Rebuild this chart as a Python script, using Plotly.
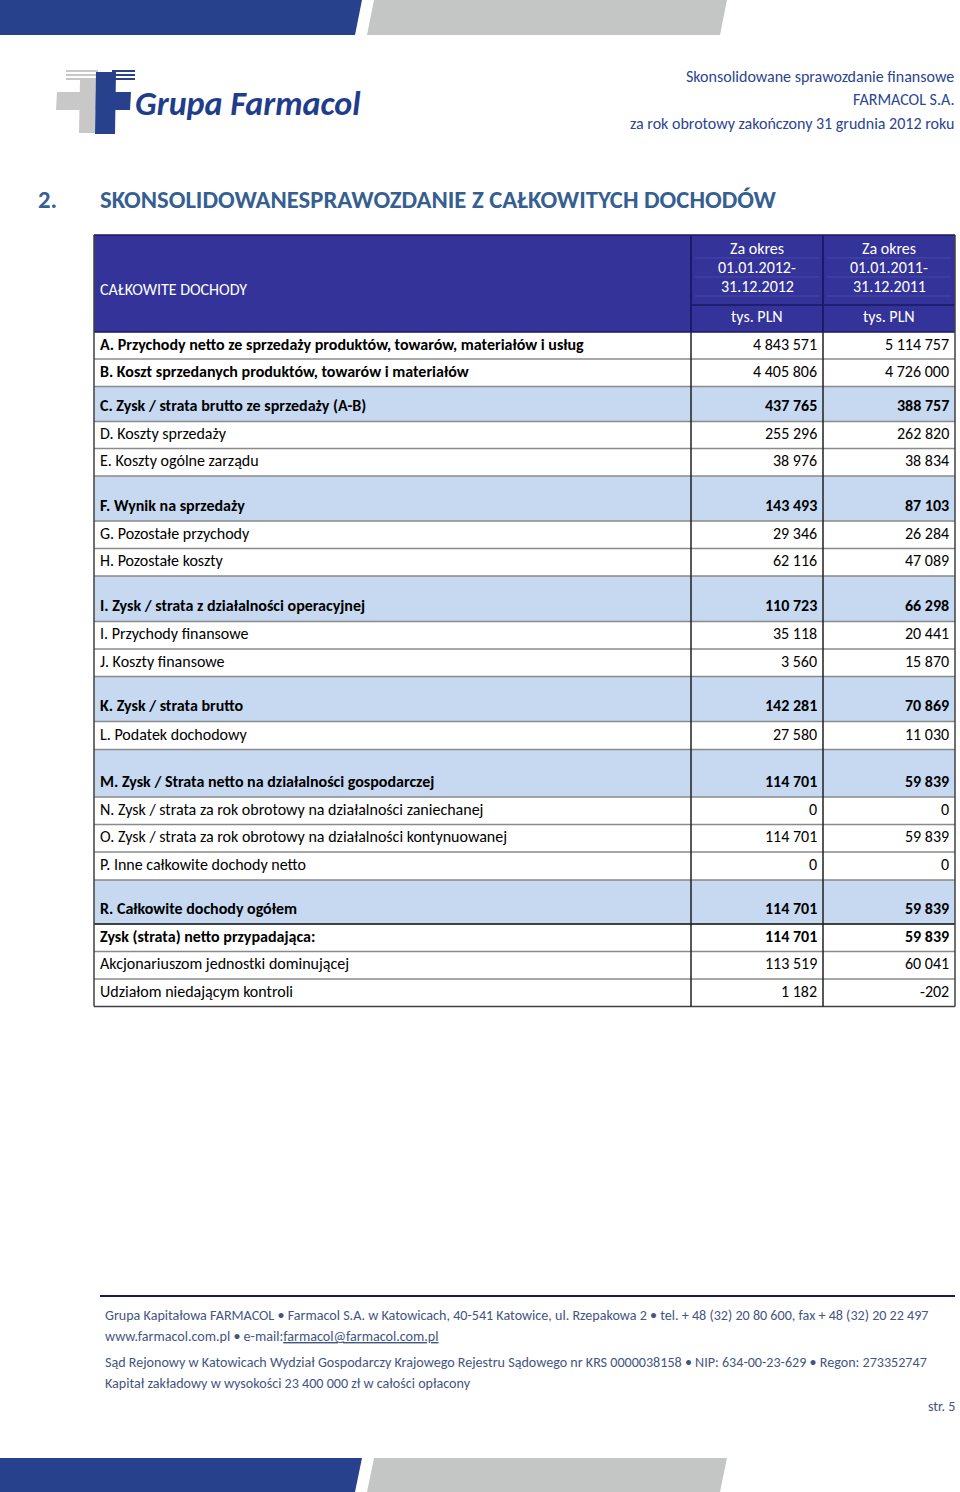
import plotly.graph_objects as go

# ---- data ----
labels = [
    "A. Przychody netto ze sprzedaży produktów, towarów, materiałów i usług",
    "B. Koszt sprzedanych produktów, towarów i materiałów",
    "C. Zysk / strata brutto ze sprzedaży (A-B)",
    "D. Koszty sprzedaży",
    "E. Koszty ogólne zarządu",
    "F. Wynik na sprzedaży",
    "G. Pozostałe przychody",
    "H. Pozostałe koszty",
    "I. Zysk / strata z działalności operacyjnej",
    "I. Przychody finansowe",
    "J. Koszty finansowe",
    "K. Zysk / strata brutto",
    "L. Podatek dochodowy",
    "M. Zysk / Strata netto na działalności gospodarczej",
    "N. Zysk / strata za rok obrotowy na działalności zaniechanej",
    "O. Zysk / strata za rok obrotowy na działalności kontynuowanej",
    "P. Inne całkowite dochody netto",
    "R. Całkowite dochody ogółem",
    "Zysk (strata) netto przypadająca:",
    "Akcjonariuszom jednostki dominującej",
    "Udziałom niedającym kontroli",
]
values_2012 = [4843571, 4405806, 437765, 255296, 38976, 143493, 29346, 62116,
               110723, 35118, 3560, 142281, 27580, 114701, 0, 114701, 0,
               114701, 114701, 113519, 1182]
values_2011 = [5114757, 4726000, 388757, 262820, 38834, 87103, 26284, 47089,
               66298, 20441, 15870, 70869, 11030, 59839, 0, 59839, 0,
               59839, 59839, 60041, -202]
col_headers = [["Za okres", "01.01.2012-", "31.12.2012"],
               ["Za okres", "01.01.2011-", "31.12.2011"]]
unit_label = "tys. PLN"
table_title = "CAŁKOWITE DOCHODY"
section_no = "2."
section_title = "SKONSOLIDOWANESPRAWOZDANIE Z CAŁKOWITYCH DOCHODÓW"
doc_header = ["Skonsolidowane sprawozdanie finansowe",
              "FARMACOL S.A.",
              "za rok obrotowy zakończony 31 grudnia 2012 roku"]
footer_lines = [
    "Grupa Kapitałowa FARMACOL • Farmacol S.A. w Katowicach, 40-541 Katowice, ul. Rzepakowa 2 • tel. + 48 (32) 20 80 600, fax + 48 (32) 20 22 497",
    "www.farmacol.com.pl • e-mail:<u>farmacol@farmacol.com.pl</u>",
    "Sąd Rejonowy w Katowicach Wydział Gospodarczy Krajowego Rejestru Sądowego nr KRS 0000038158 • NIP: 634-00-23-629 • Regon: 273352747",
    "Kapitał zakładowy w wysokości 23 400 000 zł w całości opłacony",
]
page_label = "str. 5"

# ---- styling ----
highlight = {2, 5, 8, 11, 13, 17}          # light-blue summary rows
bold_label = {0, 1, 2, 5, 8, 11, 13, 17, 18}
bold_value = {2, 5, 8, 11, 13, 17, 18}
# row heights in px, as laid out in the source document
row_heights = [27, 27.5, 35, 27, 27.5, 45, 27.5, 27.5, 45.5, 27.5, 27.5,
               45, 28, 47.5, 27.5, 27.5, 28, 44, 27.5, 27.5, 27.5]
FONT = "Carlito, Lato, 'Open Sans', sans-serif"
NAVY = "#333399"
LIGHT = "#c6d9f0"
BLUE = "#28418d"
GRAY = "#c4c6c6"
HEAD_BLUE = "#365f91"
FOOT = "#44557f"
FS = 16   # body text size


def fmt(v):
    return f"{v:,}".replace(",", " ")


fig = go.Figure()
fig.update_layout(
    width=960, height=1492, margin=dict(l=0, r=0, t=0, b=0),
    plot_bgcolor="white", paper_bgcolor="white", showlegend=False,
    xaxis=dict(range=[0, 960], visible=False, fixedrange=True),
    yaxis=dict(range=[1492, 0], visible=False, fixedrange=True),
)
shapes = []
ann = []


def rect(x0, y0, x1, y1, fill, line=None, lw=0):
    shapes.append(dict(type="rect", x0=x0, y0=y0, x1=x1, y1=y1, fillcolor=fill,
                       line=dict(color=line or fill, width=lw), layer="below"))


def poly(pts, fill):
    d = "M " + " L ".join(f"{x},{y}" for x, y in pts) + " Z"
    shapes.append(dict(type="path", path=d, fillcolor=fill, line=dict(width=0), layer="below"))


def hline(x0, x1, y, color, w=1):
    shapes.append(dict(type="line", x0=x0, x1=x1, y0=y, y1=y, line=dict(color=color, width=w)))


def vline(x, y0, y1, color, w=1):
    shapes.append(dict(type="line", x0=x, x1=x, y0=y0, y1=y1, line=dict(color=color, width=w)))


def text(x, y, s, size=FS, color="black", anchor="left", bold=False, italic=False):
    if bold:
        s = f"<b>{s}</b>"
    if italic:
        s = f"<i>{s}</i>"
    # annotations carry ~2px of padding; cancel it so text sits on x
    shift = {"left": -2, "right": 2}.get(anchor, 0)
    ann.append(dict(x=x, y=y, text=s, showarrow=False, xanchor=anchor, yanchor="middle",
                    xshift=shift, font=dict(family=FONT, size=size, color=color)))


# page decorations: slanted bands top and bottom
for y0, y1 in [(0, 35), (1458, 1492)]:
    poly([(0, y0), (362, y0), (355, y1), (0, y1)], BLUE)
    poly([(374, y0), (727, y0), (720, y1), (367, y1)], GRAY)

# logo
for k in range(3):
    rect(66, 70 + 4 * k, 98, 72 + 4 * k, "#c8c8c8")
    rect(112, 70 + 4 * k, 135, 72 + 4 * k, BLUE)
poly([(80, 80), (96, 80), (95, 133), (79, 133)], "#c8c8c8")
poly([(57, 92), (100, 92), (100, 110), (56, 110)], "#c8c8c8")
poly([(96, 72), (116, 72), (115, 134), (95, 134)], BLUE)
poly([(104, 92), (131, 92), (130, 110), (103, 110)], BLUE)
text(135, 103, "Grupa Farmacol", size=34, color="#1f3d8c", bold=True, italic=True)

for i, s in enumerate(doc_header):
    text(954, 76 + 23.5 * i, s, size=FS, color="#2b4590", anchor="right")

text(38, 199, section_no, size=24.7, color=HEAD_BLUE, bold=True)
text(100, 199, section_title, size=24.7, color=HEAD_BLUE, bold=True)

# ---- table geometry ----
X0, X1, X2, X3 = 94, 691, 823, 955
TOP, HEAD_END, SPLIT = 235, 332, 305

# header block
rect(X0, TOP, X3, HEAD_END, NAVY)
text(100, 289, table_title, size=FS, color="white")
for c, (xa, xb) in enumerate([(X1, X2), (X2, X3)]):
    for k, s in enumerate(col_headers[c]):
        text((xa + xb) / 2, 248 + 19 * k, s, size=FS, color="white", anchor="center")
        hline(xa + 4, xb - 4, 258 + 19 * k, "#4848aa", 1)
    text((xa + xb) / 2, 316, unit_label, size=FS, color="white", anchor="center")
    hline(xa, xb, SPLIT, "#1a1a66", 1.5)
vline(X1, TOP, HEAD_END, "#1a1a66", 2)
vline(X2, TOP, HEAD_END, "#1a1a66", 2)

# body rows
y = HEAD_END
tops = []
for i, lab in enumerate(labels):
    h = row_heights[i]
    tops.append(y)
    if i in highlight:
        rect(X0, y, X3, y + h, LIGHT)
    ty = y + h - 16 if i in highlight else y + h / 2 - 1.5
    text(100, ty, lab, bold=i in bold_label)
    text(X2 - 6, ty, fmt(values_2012[i]), anchor="right", bold=i in bold_value)
    text(X3 - 6, ty, fmt(values_2011[i]), anchor="right", bold=i in bold_value)
    y += h
bottom = y
for t in tops[1:]:
    hline(X0, X3, t, "#8a8a8a", 1.5)
hline(X0, X3, tops[18], "#202020", 1.5)
hline(X0, X3, HEAD_END, "#1a1a66", 1.5)
hline(X0, X3, bottom, "#404040", 1.5)
vline(X0, TOP, bottom, "#404040", 1.5)
vline(X3, TOP, bottom, "#404040", 1.5)
vline(X1, HEAD_END, bottom, "#202020", 1.5)
vline(X2, HEAD_END, bottom, "#202020", 1.5)
hline(X0, X3, TOP, "#1a1a66", 1.5)

# footer
hline(100, 955, 1296, "#1a1a55", 2)
for s, fy in zip(footer_lines, [1315, 1336, 1362, 1383]):
    text(105, fy, s, size=14.1, color=FOOT)
text(955, 1406, page_label, size=14.1, color=FOOT, anchor="right")

fig.update_layout(shapes=shapes, annotations=ann)
# drop the default body margin so the page is drawn edge to edge
fig.write_html("out.html", config={"displayModeBar": False},
               post_script="document.body.style.margin='0';document.body.style.overflow='hidden';")
